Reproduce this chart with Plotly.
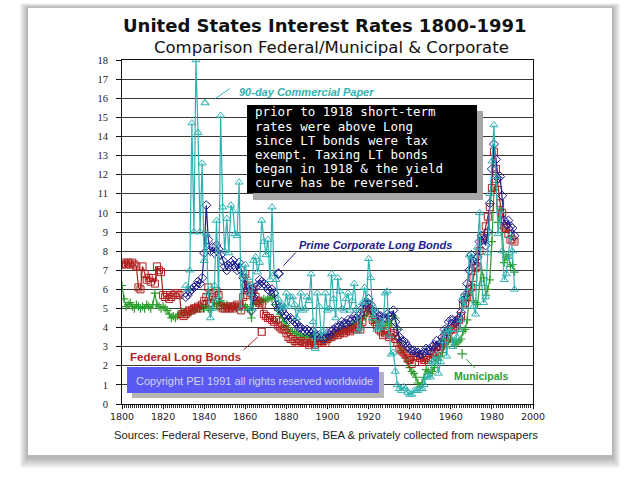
import plotly.graph_objects as go

# ---------------- data ----------------
fed_years = list(range(1800, 1992))
fed_rates = [
    7.3, 7.4, 7.3, 7.4, 7.3, 7.4, 7.3, 7.2, 6.1, 6.0,
    7.2, 6.8, 6.5, 6.6, 6.4, 6.6, 6.3, 7.2, 7.0, 6.9,
    5.7, 5.6, 5.7, 5.5, 5.6, 5.7, 5.8, 5.8, 5.7, 4.7,
    4.6, 4.7, 4.8, 4.9, 4.9, 5.0, 5.0, 5.1, 5.0, 5.2,
    5.4, 5.6, 6.1, 5.3, 5.6, 5.8, 5.9, 5.7, 5.1, 5.0,
    5.0, 5.1, 5.0, 5.1, 5.0, 5.1, 5.2, 5.1, 4.9, 5.6,
    6.8, 5.7, 6.2, 5.8, 6.0, 5.6, 5.4, 5.3, 5.2, 4.7,
    4.6, 4.5, 4.5, 4.4, 4.3, 4.4, 4.1, 4.0, 3.9, 3.9,
    3.7, 3.5, 3.4, 3.4, 3.3, 3.2, 3.2, 3.3, 3.2, 3.2,
    3.2, 3.1, 3.2, 3.3, 3.1, 3.2, 3.3, 3.2, 3.3, 3.2,
    3.4, 3.5, 3.5, 3.6, 3.7, 3.6, 3.7, 3.8, 3.7, 3.8,
    3.9, 3.8, 3.9, 4.0, 3.9, 4.0, 3.9, 4.3, 4.8, 5.0,
    5.2, 4.9, 4.4, 4.3, 4.1, 3.9, 3.8, 3.6, 3.7, 3.8,
    3.5, 3.6, 3.7, 3.4, 3.2, 2.9, 2.8, 2.7, 2.6, 2.4,
    2.3, 2.1, 2.5, 2.5, 2.5, 2.4, 2.2, 2.3, 2.4, 2.3,
    2.4, 2.6, 2.7, 3.0, 2.8, 3.0, 3.2, 3.5, 3.4, 3.8,
    3.9, 3.9, 4.0, 4.1, 4.4, 4.6, 5.2, 5.3, 5.6, 6.0,
    6.1, 6.6, 7.1, 7.2, 8.0, 8.7, 8.8, 9.3, 9.8, 10.3,
    11.3, 13.2, 12.3, 11.2, 10.5, 10.0, 9.3, 9.2, 8.9, 8.6,
    8.6, 8.5,
]

muni_years = list(range(1800, 1992))
muni_rates = [
    6.2, 5.5, 5.1, 5.2, 5.3, 5.1, 5.0, 5.2, 5.1, 5.0,
    5.1, 5.0, 5.2, 5.1, 5.0, 5.2, 5.8, 5.2, 5.1, 5.0,
    5.1, 5.0, 4.9, 4.7, 4.5, 4.6, 4.5, 4.6, 4.7, 4.8,
    4.8, 4.9, 4.7, 4.8, 5.0, 4.9, 5.0, 5.1, 5.0, 5.1,
    5.0, 5.1, 5.0, 4.9, 5.1, 5.3, 5.2, 5.3, 5.4, 5.2,
    5.1, 5.2, 5.0, 5.1, 5.0, 5.1, 5.0, 5.1, 5.0, 5.2,
    5.1, 5.0, 4.9, 4.5, 5.2, 5.3, 5.4, 5.3, 5.4, 5.5,
    5.4, 5.5, 5.6, 5.5, 5.7, 5.2, 4.9, 4.7, 4.5, 4.3,
    4.1, 3.9, 3.8, 3.8, 3.7, 3.7, 3.6, 3.6, 3.5, 3.5,
    3.5, 3.6, 3.5, 3.6, 3.5, 3.4, 3.5, 3.4, 3.3, 3.3,
    3.4, 3.4, 3.5, 3.6, 3.7, 3.7, 3.8, 3.9, 4.0, 3.9,
    4.0, 4.1, 4.1, 4.2, 4.3, 4.3, 4.2, 4.4, 4.6, 4.7,
    5.0, 4.8, 4.4, 4.4, 4.3, 4.2, 4.1, 4.0, 4.1, 4.3,
    4.1, 4.2, 4.6, 4.5, 3.9, 3.2, 2.8, 2.7, 2.4, 2.2,
    1.9, 1.7, 1.6, 1.4, 1.1, 0.9, 1.1, 1.4, 1.8, 1.7,
    1.6, 1.7, 1.9, 2.5, 2.3, 2.5, 2.7, 3.1, 3.0, 3.3,
    3.4, 3.3, 3.1, 3.2, 3.3, 3.4, 3.8, 3.9, 4.4, 5.7,
    6.2, 5.4, 5.3, 5.2, 6.2, 7.0, 6.6, 5.7, 6.0, 6.5,
    8.5, 11.2, 11.6, 9.5, 10.2, 9.2, 7.4, 7.7, 7.8, 7.2,
    7.3, 6.9,
]

corp_years = list(range(1831, 1992))
corp_rates = [
    5.6, 5.7, 5.9, 6.0, 6.1, 6.2, 6.4, 6.3, 6.6,
    7.9, 10.4, 8.6, 8.0, 8.2, 7.9, 8.3, 8.1, 7.8, 7.5,
    7.2, 7.0, 7.2, 7.4, 7.5, 7.2, 7.0, 7.4, 7.0, 6.6,
    6.2, 6.0, 6.1, 4.9, 5.6, 6.1, 6.2, 6.5, 6.4, 6.3,
    6.2, 6.0, 5.9, 6.0, 5.8, 5.2, 5.0, 5.1, 4.9, 4.7,
    4.6, 4.4, 4.5, 4.4, 4.3, 4.2, 4.0, 4.0, 3.9, 3.8,
    3.9, 3.8, 3.7, 3.8, 3.6, 3.5, 3.6, 3.5, 3.4, 3.5,
    3.7, 3.6, 3.8, 3.9, 4.0, 4.0, 4.1, 4.3, 4.2, 4.2,
    4.4, 4.3, 4.4, 4.6, 4.5, 4.6, 4.7, 5.0, 5.2, 5.3,
    5.5, 5.2, 4.9, 4.8, 4.7, 4.6, 4.6, 4.5, 4.5, 4.7,
    4.6, 4.6, 4.9, 4.3, 3.9, 3.5, 3.3, 3.3, 3.2, 3.0,
    2.9, 2.8, 2.8, 2.7, 2.7, 2.6, 2.6, 2.7, 2.9, 2.8,
    2.8, 3.0, 3.1, 3.3, 3.0, 3.2, 3.5, 3.9, 3.8, 4.3,
    4.4, 4.4, 4.3, 4.3, 4.5, 4.8, 5.4, 5.7, 6.3, 7.0,
    7.8, 7.5, 7.3, 7.7, 8.5, 8.8, 8.6, 8.3, 9.0, 10.5,
    12.3, 13.6, 12.8, 11.8, 11.9, 10.9, 9.6, 9.4, 9.6, 9.3,
    9.2, 8.8,
]

cp_years = list(range(1831, 1992))
cp_rates = [
    6.2, 6.0, 7.0, 14.7, 9.0, 18.0, 14.2, 9.0, 12.6,
    7.5, 8.9, 5.8, 4.5, 5.0, 6.2, 9.6, 5.5, 15.1, 10.3,
    8.0, 9.7, 7.9, 10.4, 10.1, 8.9, 8.8, 11.6, 5.0, 6.8,
    7.3, 6.6, 5.8, 5.0, 7.5, 7.7, 6.9, 7.4, 9.6, 8.5,
    7.8, 8.6, 6.5, 10.3, 6.8, 6.5, 5.5, 5.0, 5.2, 5.1,
    5.8, 5.1, 5.6, 5.6, 5.2, 4.5, 5.0, 5.8, 4.9, 5.0,
    5.6, 5.4, 6.8, 4.3, 2.9, 5.8, 5.1, 3.5, 3.8, 5.8,
    4.9, 5.0, 6.8, 5.5, 4.5, 6.6, 5.9, 5.0, 4.9, 5.5,
    5.8, 4.9, 5.4, 6.3, 5.0, 3.8, 4.0, 5.3, 6.1, 5.4,
    7.6, 6.6, 4.5, 5.0, 3.9, 4.0, 4.3, 4.0, 5.8, 5.9,
    3.6, 2.6, 2.7, 1.7, 1.0, 0.8, 0.7, 0.9, 0.8, 0.6,
    0.5, 0.5, 0.7, 0.7, 0.7, 0.8, 0.8, 1.0, 1.4, 1.5,
    1.4, 2.2, 2.3, 2.5, 1.6, 2.2, 3.3, 3.8, 2.5, 3.9,
    3.9, 3.0, 3.3, 3.5, 3.9, 4.4, 5.6, 5.1, 5.9, 7.8,
    7.7, 5.1, 4.7, 8.2, 10.0, 6.3, 5.3, 5.6, 7.9, 11.0,
    12.7, 14.6, 11.9, 8.9, 10.1, 8.0, 6.5, 6.8, 7.7, 8.8,
    8.0, 6.0,
]

x_tick_vals = [1800, 1820, 1840, 1860, 1880, 1900, 1920, 1940, 1960, 1980, 2000]
y_tick_vals = list(range(0, 19))

box_lines = [
    "prior to 1918 short-term",
    "rates were above Long",
    "since LT bonds were tax",
    "exempt. Taxing LT bonds",
    "began in 1918 & the yield",
    "curve has be reversed.",
]

# series labels: (text, label position, pointer marker position, leader line ends)
cp_label = ("90-day Commercial Paper", (1855.8, 16.3), (1840.4, 15.75), (1852.4, 16.5), (1845.0, 15.95))
corp_label = ("Prime Corporate Long Bonds", (1885.0, 8.3), (1876.2, 6.82), (1884.5, 7.92), (1878.6, 7.24))
fed_label = ("Federal Long Bonds", (1830.8, 2.47), (1868.0, 3.78), (1859.2, 2.83), (1866.0, 3.5))
muni_label = ("Municipals", (1974.5, 1.47), (1965.5, 2.62), (1971.8, 1.89), (1967.5, 2.35))

# ---------------- styling ----------------
W, H = 640, 489
C_CP = "#2fb2b2"
C_CORP = "#1c1c8e"
C_FED = "#b01e1e"
C_MUNI = "#2e9e2e"


def px(x):
    return x / W


def py(y):
    return 1 - y / H


fig = go.Figure()

fig.add_trace(go.Scatter(x=muni_years, y=muni_rates, mode="lines+markers", name="Municipals",
                         line=dict(color=C_MUNI, width=1.2),
                         marker=dict(symbol="cross-thin-open", size=6, line=dict(color=C_MUNI, width=1.2))))
fig.add_trace(go.Scatter(x=fed_years, y=fed_rates, mode="lines+markers", name="Federal Long Bonds",
                         line=dict(color=C_FED, width=1.2),
                         marker=dict(symbol="square-open", size=7, color=C_FED, line=dict(color=C_FED, width=1))))
fig.add_trace(go.Scatter(x=corp_years, y=corp_rates, mode="lines+markers", name="Prime Corporate Long Bonds",
                         line=dict(color=C_CORP, width=1.2),
                         marker=dict(symbol="diamond-open", size=7, color=C_CORP, line=dict(color=C_CORP, width=1))))
fig.add_trace(go.Scatter(x=cp_years, y=cp_rates, mode="lines+markers", name="90-day Commercial Paper",
                         line=dict(color=C_CP, width=1.2),
                         marker=dict(symbol="triangle-up-open", size=7, color=C_CP, line=dict(color=C_CP, width=1))))

# label pointers
for lab, col, sym, bold_it in [
    (cp_label, C_CP, "triangle-up-open", "bi"),
    (corp_label, C_CORP, "diamond-open", "bi"),
    (fed_label, C_FED, "square-open", "b"),
    (muni_label, C_MUNI, "cross-thin-open", "b"),
]:
    text, tpos, mpos, l1, l2 = lab
    fig.add_trace(go.Scatter(x=[mpos[0]], y=[mpos[1]], mode="markers", showlegend=False, hoverinfo="skip",
                             marker=dict(symbol=sym, size=7, color=col, line=dict(color=col, width=1.2))))
    fig.add_shape(type="line", xref="x", yref="y", x0=l1[0], y0=l1[1], x1=l2[0], y1=l2[1],
                  line=dict(color=col, width=1))
    txt = "<b><i>%s</i></b>" % text if bold_it == "bi" else "<b>%s</b>" % text
    anchor = "center" if text in ("Federal Long Bonds", "Municipals") else "left"
    fs = {"90-day Commercial Paper": 11, "Prime Corporate Long Bonds": 11,
          "Federal Long Bonds": 11.5, "Municipals": 10.5}[text]
    fig.add_annotation(x=tpos[0], y=tpos[1], xref="x", yref="y", text=txt, showarrow=False,
                       xanchor=anchor, yanchor="middle",
                       font=dict(family="Liberation Sans", size=fs, color=col))

shapes = []
# card shadow
for i in range(8, 0, -1):
    shapes.append(dict(type="rect", xref="paper", yref="paper", layer="below",
                       x0=px(28 - i), x1=px(612 + i), y0=py(457 + i * 1.4), y1=py(8 - i * 0.6),
                       fillcolor="rgba(0,0,0,0.04)", line=dict(width=0)))
shapes.append(dict(type="rect", xref="paper", yref="paper", layer="below",
                   x0=px(28), x1=px(612), y0=py(455), y1=py(8),
                   fillcolor="white", line=dict(width=0)))
# black note box with shadow
shapes.append(dict(type="rect", xref="paper", yref="paper", layer="above",
                   x0=px(253), x1=px(483), y0=py(200), y1=py(111),
                   fillcolor="#a6a6a6", line=dict(width=0)))
shapes.append(dict(type="rect", xref="paper", yref="paper", layer="above",
                   x0=px(247), x1=px(477), y0=py(193), y1=py(105),
                   fillcolor="black", line=dict(width=0)))
# copyright box with shadow
shapes.append(dict(type="rect", xref="paper", yref="paper", layer="above",
                   x0=px(132), x1=px(384), y0=py(398), y1=py(372),
                   fillcolor="#b4b4b4", line=dict(width=0)))
shapes.append(dict(type="rect", xref="paper", yref="paper", layer="above",
                   x0=px(127), x1=px(379), y0=py(393), y1=py(367),
                   fillcolor="#5a5af2", line=dict(width=0)))
for s in shapes:
    fig.add_shape(**s)

for i, line in enumerate(box_lines):
    fig.add_annotation(x=px(254), y=py(112 + 14 * i), xref="paper", yref="paper", text=line,
                       showarrow=False, xanchor="left", yanchor="middle", borderpad=0,
                       font=dict(family="DejaVu Sans Mono", size=12.5, color="white"))

fig.add_annotation(x=px(254), y=py(380.5), xref="paper", yref="paper",
                   text="Copyright PEI 1991 all rights reserved worldwide", showarrow=False,
                   xanchor="center", yanchor="middle",
                   font=dict(family="Liberation Sans", size=11, color="#d4d4ea"))

fig.add_annotation(x=px(325), y=py(25), xref="paper", yref="paper",
                   text="<b>United States Interest Rates 1800-1991</b>", showarrow=False,
                   xanchor="center", yanchor="middle",
                   font=dict(family="DejaVu Sans", size=18, color="#111"))
fig.add_annotation(x=px(331), y=py(47), xref="paper", yref="paper",
                   text="Comparison Federal/Municipal &amp; Corporate", showarrow=False,
                   xanchor="center", yanchor="middle",
                   font=dict(family="DejaVu Sans", size=16.5, color="#111"))
fig.add_annotation(x=px(326), y=py(435), xref="paper", yref="paper",
                   text="Sources: Federal Reserve, Bond Buyers, BEA &amp; privately collected from newspapers",
                   showarrow=False, xanchor="center", yanchor="middle",
                   font=dict(family="Liberation Sans", size=11.3, color="#222"))

fig.update_layout(
    width=W, height=H,
    margin=dict(l=0, r=0, t=0, b=0, autoexpand=False),
    paper_bgcolor="white",
    plot_bgcolor="rgba(0,0,0,0)",
    showlegend=False,
    xaxis=dict(domain=[px(122), px(533)], range=[1800, 2000], tickvals=x_tick_vals, automargin=False,
               showgrid=False, zeroline=False, showline=True, linecolor="#111", linewidth=1,
               mirror=True, ticks="outside", ticklen=4, tickcolor="#111",
               minor=dict(dtick=1, tick0=1800, ticks="outside", ticklen=3, tickcolor="#333", showgrid=False),
               tickfont=dict(family="DejaVu Sans", size=9.5, color="#222")),
    yaxis=dict(domain=[py(404), py(60)], range=[0, 18], tickvals=y_tick_vals, automargin=False,
               showgrid=True, gridcolor="#3a3a3a", gridwidth=1, zeroline=False,
               showline=True, linecolor="#111", linewidth=1, mirror=True,
               ticks="outside", ticklen=5, tickcolor="#111", ticklabelstandoff=6,
               tickfont=dict(family="Liberation Serif", size=10.5, color="#222")),
)

fig.write_html("out.html", config={"displayModeBar": False},
               post_script="document.body.style.margin='0';document.body.style.overflow='hidden';")
